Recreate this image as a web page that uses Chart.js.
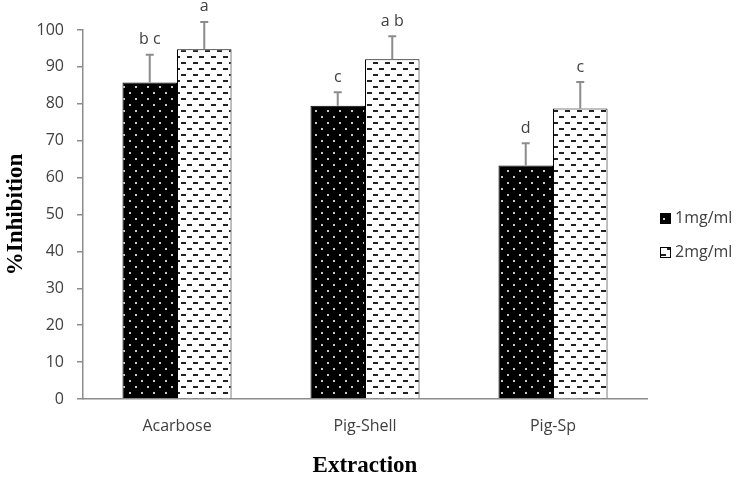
<!DOCTYPE html>
<html>
<head>
<meta charset="utf-8">
<script src="https://cdn.jsdelivr.net/npm/chart.js@4"></script>
<style>
  html, body { margin: 0; padding: 0; background: #fff; }
</style>
</head>
<body>
<canvas id="chart" width="738" height="478"></canvas>
<script>
// data
const categories = ['Acarbose', 'Pig-Shell', 'Pig-Sp'];
const series1 = [85.8, 79.5, 63.3];   // 1mg/ml
const series2 = [94.8, 92.1, 78.7];   // 2mg/ml
const err1 = [7.5, 3.6, 6.0];
const err2 = [7.4, 6.2, 7.2];
const letters1 = ['b c', 'c', 'd'];
const letters2 = ['a', 'a b', 'c'];
const yTicks = [0, 10, 20, 30, 40, 50, 60, 70, 80, 90, 100];

const tickFont = { family: 'Open Sans', size: 16 };
const textColor = '#404040';
const axisColor = '#8c8c8c';

// black with light dots
function dotPattern() {
    const c = document.createElement('canvas');
    c.width = 12; c.height = 12;
    const g = c.getContext('2d');
    g.fillStyle = '#000';
    g.fillRect(0, 0, 12, 12);
    g.fillStyle = '#c8c8c8';
    g.fillRect(3, 2, 2, 2);
    g.fillRect(9, 8, 2, 2);
    return g.createPattern(c, 'repeat');
}

// white with short dashes
function dashPattern() {
    const c = document.createElement('canvas');
    c.width = 12; c.height = 12;
    const g = c.getContext('2d');
    g.fillStyle = '#fff';
    g.fillRect(0, 0, 12, 12);
    g.fillStyle = '#222';
    g.fillRect(1, 2, 5, 2);
    g.fillRect(7, 8, 5, 2);
    return g.createPattern(c, 'repeat');
}

const fill1 = dotPattern();
const fill2 = dashPattern();

const errorBars = {
    id: 'errorBars',
    afterDatasetsDraw(chart) {
        const ctx = chart.ctx;
        const y = chart.scales.y;
        const errs = [err1, err2];
        const vals = [series1, series2];
        const letters = [letters1, letters2];
        ctx.save();
        for (let d = 0; d < 2; d++) {
            const meta = chart.getDatasetMeta(d);
            meta.data.forEach((bar, i) => {
                const top = y.getPixelForValue(vals[d][i] + errs[d][i]);
                const base = y.getPixelForValue(vals[d][i]);
                ctx.strokeStyle = axisColor;
                ctx.lineWidth = 2;
                ctx.beginPath();
                ctx.moveTo(bar.x, base);
                ctx.lineTo(bar.x, top);
                ctx.moveTo(bar.x - 4, top);
                ctx.lineTo(bar.x + 4, top);
                ctx.stroke();
                ctx.fillStyle = textColor;
                ctx.font = '16px "Open Sans"';
                ctx.textAlign = 'center';
                ctx.textBaseline = 'middle';
                ctx.fillText(letters[d][i], bar.x, top - 15);
            });
        }
        ctx.restore();
    }
};

const sideLegend = {
    id: 'sideLegend',
    afterDraw(chart) {
        const ctx = chart.ctx;
        const items = [['1mg/ml', fill1, 218], ['2mg/ml', fill2, 252]];
        ctx.save();
        items.forEach(([label, fill, cy]) => {
            ctx.fillStyle = fill;
            ctx.fillRect(660, cy - 5, 10, 10);
            ctx.strokeStyle = '#000';
            ctx.lineWidth = 1;
            ctx.strokeRect(660.5, cy - 4.5, 10, 10);
            ctx.fillStyle = textColor;
            ctx.font = '16px "Open Sans"';
            ctx.textAlign = 'left';
            ctx.textBaseline = 'middle';
            ctx.fillText(label, 675, cy);
        });
        ctx.restore();
    }
};

new Chart(document.getElementById('chart'), {
    type: 'bar',
    data: {
        labels: categories,
        datasets: [{
            label: '1mg/ml',
            data: series1,
            backgroundColor: fill1,
            borderColor: '#000',
            borderWidth: 1
        }, {
            label: '2mg/ml',
            data: series2,
            backgroundColor: fill2,
            borderColor: '#000',
            borderWidth: 1
        }]
    },
    options: {
        responsive: false,
        animation: false,
        devicePixelRatio: 1,
        layout: { padding: { left: 0, right: 91, top: 30, bottom: 0 } },
        datasets: { bar: { categoryPercentage: 0.58, barPercentage: 1.0 } },
        plugins: {
            legend: { display: false },
            tooltip: { enabled: false }
        },
        scales: {
            x: {
                grid: { display: false },
                border: { display: true, color: axisColor, width: 1.5 },
                ticks: { color: textColor, font: tickFont, padding: 10 },
                title: {
                    display: true,
                    text: 'Extraction',
                    color: '#000',
                    font: { family: 'Liberation Serif', size: 23, weight: 'bold', lineHeight: 1 },
                    padding: { top: 0, bottom: 0 }
                },
                afterFit(scale) { scale.height = 79; }
            },
            y: {
                min: 0,
                max: 100,
                afterBuildTicks(scale) { scale.ticks = yTicks.map(v => ({ value: v })); },
                grid: { drawOnChartArea: false, drawTicks: true, tickLength: 6, color: axisColor, lineWidth: 1.5 },
                border: { display: true, color: axisColor, width: 1.5 },
                ticks: { color: textColor, font: tickFont, padding: 13 },
                title: {
                    display: true,
                    text: '%Inhibition',
                    color: '#000',
                    font: { family: 'Liberation Serif', size: 23, weight: 'bold', lineHeight: 1 },
                    padding: { top: 5, bottom: 0 }
                },
                afterFit(scale) { scale.width = 83; }
            }
        }
    },
    plugins: [errorBars, sideLegend]
});
</script>
</body>
</html>
